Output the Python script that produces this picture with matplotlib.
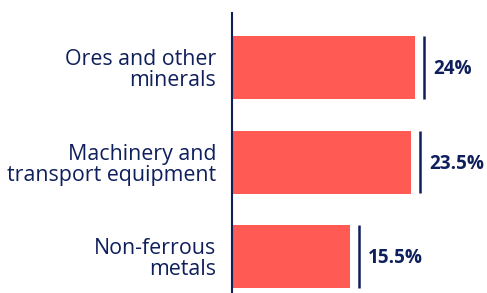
import matplotlib
matplotlib.use("Agg")
import matplotlib.pyplot as plt
from matplotlib import font_manager as fm

categories = ["Ores and other\nminerals", "Machinery and\ntransport equipment", "Non-ferrous\nmetals"]
values = [24, 23.5, 15.5]
value_labels = ["24%", "23.5%", "15.5%"]

NAVY = "#0f1f5c"
RED = "#ff5a54"

plt.rcParams['font.family'] = ['Open Sans', 'DejaVu Sans']

bold_path = None
for f in fm.fontManager.ttflist:
    if f.fname.endswith("OpenSans-Bold.ttf"):
        bold_path = f.fname
        break
if bold_path:
    bold_fp = fm.FontProperties(fname=bold_path, size=13.6)
else:
    bold_fp = fm.FontProperties(family='Open Sans', weight='bold', size=13.6)

fig = plt.figure(figsize=(4.87, 2.93), dpi=100)
ax = fig.add_axes([232/487, 0, 1 - 232/487, 280/293])

pos = list(range(len(values)))
ax.barh(pos, values, height=0.667, color=RED)

sep_off = 1.2
lab_off = 2.35
ax.vlines([v + sep_off for v in values], [p - 0.333 for p in pos], [p + 0.333 for p in pos],
          color=NAVY, linewidth=1.8)
for p, v, t in zip(pos, values, value_labels):
    ax.text(v + lab_off, p + 0.02, t, va='center', ha='left', fontproperties=bold_fp, color=NAVY)

ax.set_xlim(0, 255/7.62)
ax.set_ylim(2.386, -0.577)
ax.set_yticks(pos)
ax.set_yticklabels(categories, fontsize=15.4, color=NAVY, ha='right', linespacing=1.0)
ax.tick_params(axis='y', length=0, pad=11.5)
ax.set_xticks([])
for s in ['top', 'right', 'bottom']:
    ax.spines[s].set_visible(False)
ax.spines['left'].set_color(NAVY)
ax.spines['left'].set_linewidth(1.5)

fig.savefig("out.png", dpi=100)
